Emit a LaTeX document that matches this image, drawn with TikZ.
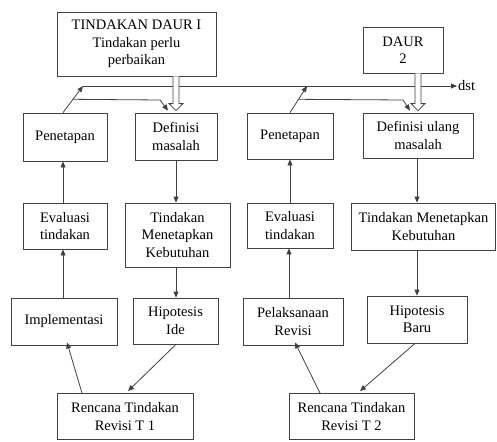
\documentclass[tikz,border=0pt]{standalone}
\usepackage{fontspec}
\setmainfont{Liberation Serif}
\usetikzlibrary{calc,arrows.meta}

% hollow block arrow pointing down from #1 to the tip #2
\newcommand\blockarrow[2]{%
  \draw[boxline,fill=white]
    ($(#1)+(-3,0)$) -- ($(#2)+(-3,-7)$) -- ($(#2)+(-7,-7)$) -- (#2)
    -- ($(#2)+(7,-7)$) -- ($(#2)+(3,-7)$) -- ($(#1)+(3,0)$);}

\begin{document}
\begin{tikzpicture}[x=1pt,y=-1pt,
  boxline/.style={draw=black!75,line width=0.8pt},
  stepbox/.style={boxline,rectangle,inner sep=0pt,align=center,
    font=\fontsize{14.5}{17.5}\selectfont,text=black},
  link/.style={boxline,-{Triangle[length=6pt,width=5pt]}}]
\useasboundingbox (0,0) rectangle (497,441);

% first cycle
\node[stepbox,minimum width=159,minimum height=64] (t1) at (136.5,44)
  {TINDAKAN DAUR I\\Tindakan perlu\\perbaikan};
\node[stepbox,minimum width=84,minimum height=48] (pen1) at (65,137) {Penetapan};
\node[stepbox,minimum width=82,minimum height=47] (def1) at (176,136.5) {Definisi\\masalah};
\node[stepbox,minimum width=84,minimum height=46] (eva1) at (65,226) {Evaluasi\\tindakan};
\node[stepbox,minimum width=105,minimum height=64] (tmk1) at (177.5,235) {Tindakan\\Menetapkan\\Kebutuhan};
\node[stepbox,minimum width=106,minimum height=47] (imp) at (64,321.5) {Implementasi};
\node[stepbox,minimum width=85,minimum height=46] (hip1) at (175.5,321) {Hipotesis\\Ide};
\node[stepbox,minimum width=136,minimum height=46] (ren1) at (125,416.5) {Rencana Tindakan\\Revisi T 1};

% second cycle
\node[stepbox,minimum width=80,minimum height=46] (d2) at (403,50) {DAUR\\2};
\node[stepbox,minimum width=86,minimum height=46] (pen2) at (290,136) {Penetapan};
\node[stepbox,minimum width=110,minimum height=45] (def2) at (418,135.5) {Definisi ulang\\masalah};
\node[stepbox,minimum width=86,minimum height=45] (eva2) at (290,225.5) {Evaluasi\\tindakan};
\node[stepbox,minimum width=144,minimum height=47] (tmk2) at (423.5,226.5) {Tindakan Menetapkan\\Kebutuhan};
\node[stepbox,minimum width=100,minimum height=47] (pel) at (293,321.5) {Pelaksanaan\\Revisi};
\node[stepbox,minimum width=100,minimum height=47] (hip2) at (417,319.5) {Hipotesis\\Baru};
\node[stepbox,minimum width=125,minimum height=46] (ren2) at (351.5,416.5) {Rencana Tindakan\\Revisi T 2};

% continuation label
\node[anchor=west,inner sep=1pt,font=\fontsize{14.5}{17.5}\selectfont] (dst) at (457,86) {dst};

% start, end and branch points of the feedback lines
\coordinate (s1) at ($(pen1.north)+(-2,0)$);
\coordinate (j1) at (83,86);
\coordinate (b1) at ($(s1)!0.5!(j1)$);
\coordinate (s2) at (pen2.north);
\coordinate (j2) at (307,86);
\coordinate (b2) at ($(s2)!0.5!(j2)$);

% feedback from Penetapan to the next cycle
\draw[link] (s1) -- (j1);
\draw[link] (j1) -- (dst.west);
\draw[link] (b1) -- (160,100) -- ($(def1.north)+(-8,-2)$);
\draw[link] (s2) -- (j2);
\draw[link] (b2) -- (403,100) -- ($(def2.north)+(-8,-2)$);

% hollow arrows from the cycle headers
\blockarrow{t1.south -| def1.north}{$(def1.north)+(0,-2)$}
\blockarrow{d2.south -| def2.north}{$(def2.north)+(0,-2)$}

% first cycle flow
\draw[link] (def1.south) -- (def1.south |- tmk1.north);
\draw[link] (tmk1.south -| def1.south) -- (hip1.north -| def1.south);
\draw[link] (hip1.south -| def1.south) -- ($(ren1.north)+(3,-2)$);
\draw[link] ($(ren1.north)+(-43,0)$) -- ($(imp.south)+(3,-3)$);
\draw[link] ($(imp.north)+(-1,0)$) -- ($(eva1.south)+(-2,0)$);
\draw[link] ($(eva1.north)+(-2,0)$) -- ($(pen1.south)+(-2,0)$);

% second cycle flow
\draw[link] (def2.south -| 417,0) -- (tmk2.north -| 417,0);
\draw[link] (tmk2.south -| 417,0) -- (hip2.north -| 417,0);
\draw[link] ($(hip2.south)+(-2,0)$) -- ($(ren2.north)+(8.5,-2)$);
\draw[link] ($(ren2.north)+(-31.5,0)$) -- ($(pel.south)+(2,-3)$);
\draw[link] ($(pel.north)+(-4,0)$) -- (eva2.south -| 289,0);
\draw[link] (eva2.north) -- (pen2.south);
\end{tikzpicture}
\end{document}
